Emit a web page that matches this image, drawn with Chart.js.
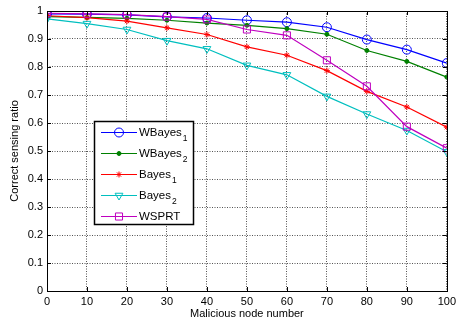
<!DOCTYPE html>
<html><head><meta charset="utf-8">
<script src="https://cdn.jsdelivr.net/npm/chart.js@4/dist/chart.umd.min.js"></script>
<style>html,body{margin:0;padding:0;background:#fff}</style>
</head><body>
<canvas id="c" width="460" height="322"></canvas>
<script>
const nodes = [0, 10, 20, 30, 40, 50, 60, 70, 80, 90, 100];
const wbayes1 = [0.990, 0.989, 0.986, 0.979, 0.975, 0.967, 0.960, 0.942, 0.898, 0.862, 0.814];
const wbayes2 = [0.980, 0.977, 0.974, 0.967, 0.957, 0.949, 0.937, 0.917, 0.859, 0.820, 0.764];
const bayes1  = [0.983, 0.976, 0.964, 0.940, 0.916, 0.872, 0.842, 0.787, 0.713, 0.657, 0.585];
const bayes2  = [0.972, 0.955, 0.934, 0.894, 0.865, 0.806, 0.772, 0.695, 0.632, 0.573, 0.497];
const wsprt   = [0.992, 0.990, 0.987, 0.980, 0.970, 0.934, 0.913, 0.824, 0.731, 0.587, 0.510];
const seriesNames = ['WBayes', 'WBayes', 'Bayes', 'Bayes', 'WSPRT'];
const seriesSubs  = ['1', '2', '1', '2', ''];
const xTitle = 'Malicious node number';
const yTitle = 'Correct sensing ratio';

const FONT = 'Arial, "Liberation Sans", sans-serif';
const styles = [
  {color:'#0000ff', pointStyle:'circle', radius:4.5, fill:'rgba(0,0,0,0)', rotation:0},
  {color:'#008000', pointStyle:'circle', radius:2, fill:'#008000', rotation:0},
  {color:'#ff0000', pointStyle:'star', radius:3, fill:'rgba(0,0,0,0)', rotation:0},
  {color:'#00bfbf', pointStyle:'triangle', radius:4.5, fill:'rgba(0,0,0,0)', rotation:180},
  {color:'#bf00bf', pointStyle:'rect', radius:5, fill:'rgba(0,0,0,0)', rotation:0}
];
const values = [wbayes1, wbayes2, bayes1, bayes2, wsprt];

const datasets = values.map((v, i) => ({
  label: seriesNames[i] + seriesSubs[i],
  data: nodes.map((x, j) => ({x: x, y: v[j]})),
  borderColor: styles[i].color,
  backgroundColor: styles[i].fill,
  pointBorderColor: styles[i].color,
  pointBackgroundColor: styles[i].fill,
  pointStyle: styles[i].pointStyle,
  pointRadius: styles[i].radius,
  pointRotation: styles[i].rotation,
  pointBorderWidth: 1,
  borderWidth: 1.2,
  tension: 0,
  order: 5 - i
}));

const deco = {
  id: 'deco',
  afterDraw(chart) {
    const ctx = chart.ctx, a = chart.chartArea;
    const xs = chart.scales.x, ys = chart.scales.y;
    ctx.save();
    ctx.strokeStyle = '#000'; ctx.lineWidth = 1;
    ctx.strokeRect(Math.round(a.left) + 0.5, Math.round(a.top) + 0.5,
                   Math.round(a.right - a.left), Math.round(a.bottom - a.top));
    ctx.beginPath();
    nodes.forEach(n => {
      const px = Math.round(xs.getPixelForValue(n)) + 0.5;
      ctx.moveTo(px, a.bottom); ctx.lineTo(px, a.bottom - 4);
      ctx.moveTo(px, a.top); ctx.lineTo(px, a.top + 4);
    });
    for (let k = 0; k <= 10; k++) {
      const py = Math.round(ys.getPixelForValue(k / 10)) + 0.5;
      ctx.moveTo(a.left, py); ctx.lineTo(a.left + 4, py);
      ctx.moveTo(a.right, py); ctx.lineTo(a.right - 4, py);
    }
    ctx.stroke();
    ctx.fillStyle = '#000';
    ctx.font = '11px ' + FONT;
    ctx.textAlign = 'center'; ctx.textBaseline = 'middle';
    ctx.fillText(xTitle, (a.left + a.right) / 2, 314);
    ctx.save();
    ctx.translate(15, (a.top + a.bottom) / 2);
    ctx.rotate(-Math.PI / 2);
    ctx.fillText(yTitle, 0, 0);
    ctx.restore();
    const bx = a.left + 47, by = a.top + 110, bw = 99, bh = 103;
    ctx.fillStyle = '#fff';
    ctx.fillRect(bx, by, bw, bh);
    ctx.strokeStyle = '#000'; ctx.lineWidth = 1.5;
    ctx.strokeRect(bx + 0.5, by + 0.5, bw, bh);
    for (let i = 0; i < 5; i++) {
      const ly = by + 11.5 + i * 21;
      ctx.strokeStyle = styles[i].color; ctx.lineWidth = 1.2;
      ctx.beginPath(); ctx.moveTo(bx + 7, ly); ctx.lineTo(bx + 43, ly); ctx.stroke();
      ctx.fillStyle = styles[i].fill;
      ctx.lineWidth = 1;
      Chart.helpers.drawPoint(ctx, {pointStyle: styles[i].pointStyle, radius: styles[i].radius,
        rotation: styles[i].rotation, borderWidth: 1}, bx + 25, ly);
      ctx.fillStyle = '#000';
      ctx.font = '11.5px ' + FONT;
      ctx.textAlign = 'left'; ctx.textBaseline = 'middle';
      ctx.fillText(seriesNames[i], bx + 45, ly);
      if (seriesSubs[i]) {
        const w = ctx.measureText(seriesNames[i]).width;
        ctx.font = '8.5px ' + FONT;
        ctx.fillText(seriesSubs[i], bx + 46 + w, ly + 6);
      }
    }
    ctx.restore();
  }
};

new Chart(document.getElementById('c'), {
  type: 'line',
  data: {datasets: datasets},
  options: {
    responsive: false,
    animation: false,
    layout: {padding: {left: 0, right: 10, top: 11, bottom: 0}},
    plugins: {legend: {display: false}, tooltip: {enabled: false}},
    scales: {
      x: {
        type: 'linear', min: 0, max: 100,
        ticks: {stepSize: 10, color: '#000', font: {size: 11, family: FONT}, padding: 4, maxRotation: 0},
        grid: {color: 'rgba(40,40,40,0.8)', lineWidth: 1, drawTicks: false},
        border: {display: false, dash: [1, 1.5]},
        afterFit: s => { s.height = 31; }
      },
      y: {
        min: 0, max: 1,
        ticks: {stepSize: 0.1, color: '#000', font: {size: 11, family: FONT}, padding: 4,
          callback: v => (Math.abs(v) < 1e-9 ? '0' : Math.abs(v - 1) < 1e-9 ? '1' : v.toFixed(1))},
        grid: {color: 'rgba(40,40,40,0.8)', lineWidth: 1, drawTicks: false},
        border: {display: false, dash: [1, 1.5]},
        afterFit: s => { s.width = 47; }
      }
    }
  },
  plugins: [deco]
});
</script>
</body></html>
